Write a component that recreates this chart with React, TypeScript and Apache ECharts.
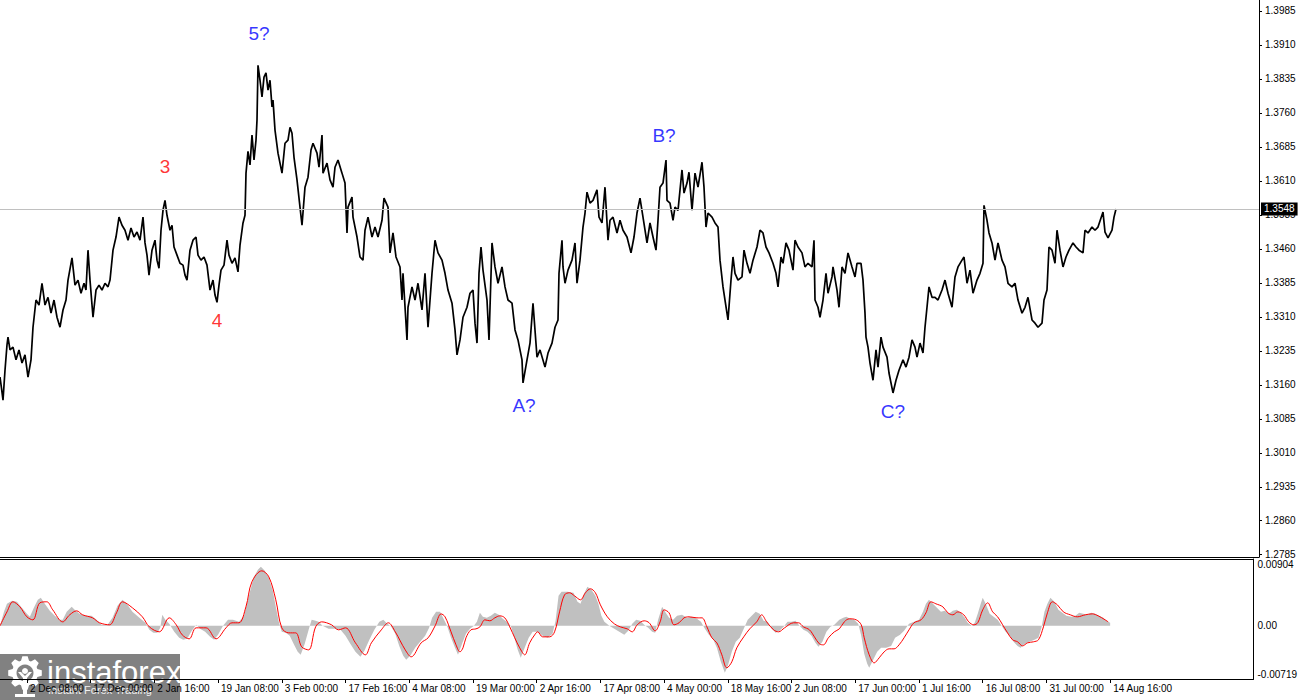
import React, { useEffect, useRef } from 'react';
import * as echarts from 'echarts';

// H4 close line, [bar, price]; one bar is one pixel of the original chart
const closesDecJan: [number, number][] = [
  [0, 1.3177], [2, 1.3144], [3, 1.3126], [5, 1.3192], [7, 1.3248], [8, 1.3265], [10, 1.3237], [13, 1.3243],
  [16, 1.3215], [19, 1.3237], [22, 1.3208], [25, 1.3226], [28, 1.3177], [31, 1.3215], [33, 1.3287], [36, 1.3347],
  [39, 1.3336], [42, 1.3384], [45, 1.3336], [48, 1.3353], [51, 1.3318], [54, 1.3347], [57, 1.3309], [60, 1.3287],
  [63, 1.3325], [66, 1.3347], [68, 1.3391], [72, 1.3440], [75, 1.3380], [78, 1.3391], [81, 1.3362], [84, 1.3384],
  [86, 1.3369], [88, 1.3457], [90, 1.3391], [93, 1.3309], [96, 1.3369], [99, 1.3380], [102, 1.3369], [105, 1.3384],
  [108, 1.3376], [110, 1.3391], [113, 1.3457], [116, 1.3486], [119, 1.3530], [122, 1.3512], [125, 1.3501], [128, 1.3479],
  [131, 1.3506], [134, 1.3486], [137, 1.3497], [140, 1.3479], [143, 1.3530], [145, 1.3473], [147, 1.3446], [149, 1.3402],
  [152, 1.3457], [155, 1.3479], [157, 1.3435], [159, 1.3417], [161, 1.3501], [163, 1.3545], [165, 1.3567], [167, 1.3534],
  [170, 1.3501], [172, 1.3512], [174, 1.3464], [177, 1.3446], [180, 1.3428], [183, 1.3424], [185, 1.3402], [187, 1.3391],
  [190, 1.3457], [193, 1.3479], [196, 1.3486], [198, 1.3446], [201, 1.3435], [204, 1.3442], [207, 1.3424], [210, 1.3369],
  [213, 1.3391], [215, 1.3358], [217, 1.3342], [219, 1.3380], [221, 1.3413], [224, 1.3424], [227, 1.3479], [229, 1.3446],
  [232, 1.3428], [235, 1.3440], [238, 1.3409], [240, 1.3468], [243, 1.3517], [245, 1.3534],
];

const closesFebApr: [number, number][] = [
  [246, 1.3627], [248, 1.3675], [250, 1.3645], [252, 1.3711], [254, 1.3656], [256, 1.3700], [257, 1.3744], [258, 1.3865],
  [260, 1.3832], [262, 1.3795], [264, 1.3839], [266, 1.3848], [268, 1.3810], [270, 1.3832], [272, 1.3773], [273, 1.3788],
  [275, 1.3722], [278, 1.3671], [282, 1.3627], [285, 1.3693], [288, 1.3700], [290, 1.3728], [292, 1.3715], [294, 1.3662],
  [297, 1.3612], [300, 1.3552], [302, 1.3512], [305, 1.3596], [308, 1.3618], [311, 1.3678], [313, 1.3693], [317, 1.3671],
  [319, 1.3640], [322, 1.3711], [323, 1.3627], [327, 1.3649], [330, 1.3612], [333, 1.3596], [335, 1.3640], [338, 1.3656],
  [342, 1.3627], [345, 1.3605], [347, 1.3495], [348, 1.3552], [352, 1.3574], [353, 1.3530], [357, 1.3486], [360, 1.3442],
  [363, 1.3435], [365, 1.3501], [368, 1.3530], [372, 1.3486], [375, 1.3508], [378, 1.3486], [382, 1.3523], [384, 1.3572],
  [388, 1.3552], [390, 1.3451], [393, 1.3495], [396, 1.3442], [400, 1.3420], [402, 1.3347], [403, 1.3406], [407, 1.3259],
  [408, 1.3331], [412, 1.3376], [415, 1.3347], [418, 1.3384], [422, 1.3325], [425, 1.3406], [428, 1.3287], [432, 1.3406],
  [435, 1.3479], [438, 1.3451], [442, 1.3435], [445, 1.3406], [448, 1.3369], [452, 1.3340], [455, 1.3281], [457, 1.3226],
  [460, 1.3259], [463, 1.3309], [467, 1.3331], [470, 1.3362], [473, 1.3369], [475, 1.3296], [477, 1.3252], [479, 1.3406],
  [481, 1.3464], [483, 1.3413], [487, 1.3347], [489, 1.3259], [492, 1.3473], [495, 1.3420], [498, 1.3384], [502, 1.3420],
  [505, 1.3376], [508, 1.3347], [512, 1.3340], [515, 1.3281], [518, 1.3259], [522, 1.3215], [523, 1.3164], [527, 1.3215],
  [530, 1.3252], [533, 1.3340], [537, 1.3221], [540, 1.3237], [545, 1.3199], [548, 1.3230], [552, 1.3252], [555, 1.3287],
];

const closesAprAug: [number, number][] = [
  [558, 1.3303], [559, 1.3406], [562, 1.3479], [563, 1.3420], [565, 1.3384], [568, 1.3413], [572, 1.3435], [575, 1.3473],
  [577, 1.3384], [580, 1.3435], [583, 1.3508], [585, 1.3539], [587, 1.3585], [590, 1.3561], [593, 1.3567], [597, 1.3590],
  [599, 1.3530], [602, 1.3517], [605, 1.3596], [608, 1.3479], [610, 1.3523], [613, 1.3530], [617, 1.3495], [620, 1.3523],
  [623, 1.3501], [627, 1.3486], [631, 1.3451], [634, 1.3486], [637, 1.3539], [640, 1.3572], [643, 1.3530], [647, 1.3473],
  [650, 1.3517], [653, 1.3486], [656, 1.3457], [658, 1.3523], [660, 1.3596], [663, 1.3605], [666, 1.3656], [667, 1.3567],
  [670, 1.3561], [673, 1.3523], [675, 1.3552], [678, 1.3545], [682, 1.3634], [684, 1.3583], [687, 1.3605], [689, 1.3629],
  [692, 1.3545], [695, 1.3627], [698, 1.3596], [702, 1.3651], [704, 1.3596], [706, 1.3508], [708, 1.3539], [712, 1.3530],
  [715, 1.3517], [718, 1.3508], [720, 1.3435], [723, 1.3376], [725, 1.3347], [728, 1.3303], [731, 1.3391], [733, 1.3442],
  [735, 1.3406], [738, 1.3391], [742, 1.3398], [744, 1.3457], [747, 1.3428], [750, 1.3406], [753, 1.3435], [757, 1.3464],
  [760, 1.3501], [763, 1.3495], [766, 1.3464], [769, 1.3451], [773, 1.3428], [776, 1.3406], [778, 1.3376], [781, 1.3442],
  [783, 1.3428], [786, 1.3473], [789, 1.3457], [793, 1.3413], [795, 1.3479], [798, 1.3464], [802, 1.3451], [805, 1.3420],
  [808, 1.3428], [812, 1.3420], [814, 1.3479], [815, 1.3347], [818, 1.3331], [820, 1.3309], [823, 1.3347], [826, 1.3406],
  [828, 1.3362], [832, 1.3398], [833, 1.3420], [837, 1.3369], [839, 1.3331], [842, 1.3420], [845, 1.3406], [848, 1.3451],
  [852, 1.3420], [855, 1.3398], [857, 1.3428], [861, 1.3428], [863, 1.3391], [865, 1.3318], [866, 1.3265], [868, 1.3243],
  [870, 1.3208], [873, 1.3170], [876, 1.3237], [878, 1.3199], [881, 1.3265], [883, 1.3243], [887, 1.3221], [889, 1.3186],
  [893, 1.3142], [896, 1.3170], [899, 1.3192], [903, 1.3215], [906, 1.3199], [909, 1.3221], [912, 1.3259], [915, 1.3243],
  [917, 1.3221], [920, 1.3252], [923, 1.3230], [925, 1.3287], [927, 1.3331], [929, 1.3376], [932, 1.3353], [935, 1.3353],
  [938, 1.3347], [942, 1.3369], [945, 1.3391], [948, 1.3362], [952, 1.3331], [955, 1.3398], [958, 1.3420], [962, 1.3435],
  [964, 1.3442], [967, 1.3384], [970, 1.3413], [973, 1.3362], [977, 1.3391], [980, 1.3406], [983, 1.3428], [984, 1.3556],
  [987, 1.3523], [989, 1.3495], [992, 1.3473], [995, 1.3435], [998, 1.3473], [1002, 1.3435], [1005, 1.3420], [1008, 1.3384],
  [1012, 1.3376], [1015, 1.3384], [1018, 1.3347], [1022, 1.3318], [1025, 1.3331], [1028, 1.3353], [1032, 1.3303], [1035, 1.3296],
  [1038, 1.3287], [1042, 1.3296], [1044, 1.3347], [1047, 1.3369], [1049, 1.3464], [1052, 1.3457], [1055, 1.3428], [1057, 1.3501],
  [1060, 1.3457], [1063, 1.3420], [1066, 1.3442], [1069, 1.3457], [1073, 1.3473], [1076, 1.3464], [1079, 1.3457], [1083, 1.3451],
  [1085, 1.3501], [1088, 1.3495], [1092, 1.3508], [1095, 1.3501], [1098, 1.3508], [1103, 1.3541], [1105, 1.3497], [1108, 1.3484],
  [1112, 1.3501], [1114, 1.3530], [1116, 1.3548],
];

const lastClose = 1.3548;

// MACD main line (histogram) and signal line, [bar, value]
const macdHist: [number, number][] = [
  [0, 0], [4, 0.00189], [7, 0.00298], [12, 0.00338], [17, 0.00325], [22, 0.00244], [27, 0.00162], [30, 0.00122],
  [34, 0.00244], [38, 0.00352], [41, 0.00379], [45, 0.00298], [50, 0.00203], [55, 0.00135], [60, 0.00081], [63, 0.00081],
  [67, 0.00189], [72, 0.00257], [76, 0.00203], [80, 0.00162], [86, 0.00135], [92, 0.00135], [97, 0.00081], [102, 0.00014],
  [108, 0.00014], [113, 0.00108], [118, 0.00271], [123, 0.00352], [128, 0.00284], [133, 0.00189], [140, 0.00108], [146, 0.00041],
  [150, -0.00054], [154, -0.00095], [158, -0.00095], [161, -0.00027], [163, 0.00149], [166, 0.00081], [170, 0.00027], [175, -0.00081],
  [180, -0.00162], [184, -0.00189], [188, -0.00176], [192, -0.00081], [197, 0.00014], [201, -0.00041], [206, -0.00081], [211, -0.00149],
  [215, -0.00189], [219, -0.00122], [224, 0], [229, 0.00081], [234, 0.00081], [240, 0.00054], [245, 0.00135], [250, 0.00406],
  [255, 0.00663], [259, 0.00758], [262, 0.00798], [266, 0.00744], [270, 0.00649], [274, 0.00474], [277, 0.00257], [280, 0.00054],
  [283, -0.00081], [287, -0.00095], [291, -0.00135], [295, -0.00244], [299, -0.00352], [302, -0.00392], [306, -0.00244], [310, -0.00054],
  [313, 0.00081], [317, 0.00068], [320, 0.00054], [324, 0], [330, -0.00041], [336, -0.00041], [342, -0.00054], [347, -0.00135],
  [352, -0.00244], [357, -0.00352], [362, -0.00419], [366, -0.00338], [371, -0.00189], [376, -0.00054], [381, 0.00054], [385, 0.00081],
  [389, 0.00027], [393, -0.00014], [397, -0.00108], [401, -0.00271], [405, -0.00406], [408, -0.0046], [412, -0.00406], [417, -0.00298],
  [422, -0.00216], [427, -0.00135], [431, -0.00027], [434, 0.00108], [438, 0.00189], [442, 0.00189], [446, 0.00081], [449, 0],
  [453, -0.00162], [457, -0.00298], [460, -0.00392], [464, -0.00244], [468, -0.00108], [472, -0.00041], [476, 0], [479, 0.00054],
  [482, 0.00176], [485, 0.00122], [489, 0.00108], [493, 0.00135], [497, 0.00176], [501, 0.00149], [505, 0.00095], [509, 0.00054],
  [513, 0], [516, -0.00135], [520, -0.00325], [523, -0.00433], [527, -0.00298], [531, -0.00162], [535, -0.00081], [540, -0.00081],
  [545, -0.00135], [550, -0.00162], [555, -0.00108], [558, 0.00068], [561, 0.00406], [564, 0.0046], [570, 0.0046], [576, 0.00447],
  [580, 0.00325], [583, 0.00298], [587, 0.00447], [590, 0.00528], [594, 0.00487], [598, 0.00406], [601, 0.00298], [604, 0.00135],
  [607, 0.00054], [612, 0], [617, -0.00041], [622, -0.00081], [627, -0.00122], [631, -0.00068], [635, 0.00027], [639, 0.00081],
  [643, 0.00068], [647, 0.00014], [651, -0.00027], [655, -0.00081], [658, -0.00095], [661, 0.00081], [665, 0.00257], [668, 0.00189],
  [672, 0.00108], [676, 0.00081], [680, 0.00135], [685, 0.00149], [690, 0.00108], [695, 0.00122], [700, 0.00095], [704, 0.00054],
  [708, -0.00041], [712, -0.00122], [716, -0.00176], [720, -0.00298], [724, -0.00487], [728, -0.00636], [731, -0.00541], [735, -0.00352],
  [739, -0.00216], [743, -0.00162], [747, -0.00041], [751, 0.00081], [755, 0.00135], [759, 0.00189], [763, 0.00162], [767, 0.00068],
  [771, 0.00054], [775, -0.00041], [779, -0.00095], [783, -0.00068], [787, -0.00014], [791, 0.00054], [795, 0.00054], [799, 0.00068],
  [803, 0], [807, -0.00054], [811, -0.00081], [815, -0.00135], [819, -0.0023], [822, -0.00284], [826, -0.00216], [830, -0.00081],
  [834, -0.00014], [838, 0.00014], [843, 0.00081], [847, 0.00108], [850, 0.00122], [854, 0.00095], [858, 0.00081], [862, 0.00027],
  [865, -0.00135], [868, -0.00379], [871, -0.00514], [873, -0.00568], [877, -0.0046], [881, -0.00352], [885, -0.00298], [890, -0.00298],
  [895, -0.00271], [899, -0.00162], [904, -0.00122], [908, -0.00068], [913, 0.00027], [918, 0.00054], [923, 0.00081], [927, 0.00189],
  [930, 0.00298], [933, 0.00352], [937, 0.00298], [941, 0.00244], [945, 0.00189], [949, 0.00203], [953, 0.00162], [957, 0.00203],
  [961, 0.00216], [965, 0.00176], [969, 0.00108], [972, 0.00041], [976, 0], [979, 0.00041], [982, 0.00162], [985, 0.00298],
  [987, 0.00379], [990, 0.00298], [994, 0.00162], [998, 0.00122], [1002, 0.00081], [1006, 0], [1010, -0.00081], [1014, -0.00135],
  [1018, -0.00216], [1022, -0.00271], [1025, -0.00298], [1029, -0.00244], [1034, -0.00216], [1039, -0.00189], [1043, -0.00162], [1046, -0.00027],
  [1049, 0.00189], [1052, 0.00298], [1055, 0.00379], [1059, 0.00325], [1063, 0.00216], [1067, 0.00176], [1071, 0.00135], [1076, 0.00122],
  [1080, 0.00135], [1084, 0.00176], [1088, 0.00162], [1092, 0.00149], [1096, 0.00176], [1100, 0.00162], [1104, 0.00135], [1108, 0.00108],
  [1111, 0.00068], [1115, 0.00041],
];

const macdSignal: [number, number][] = [
  [0, 0], [7, 0.00189], [13, 0.00325], [20, 0.00257], [27, 0.00122], [33, 0.00081], [40, 0.00311], [47, 0.00325],
  [53, 0.00216], [63, 0.00054], [70, 0.00149], [77, 0.00203], [83, 0.00149], [93, 0.00108], [100, 0.00041], [110, 0.00014],
  [117, 0.00176], [123, 0.00325], [133, 0.00244], [143, 0.00122], [150, -0.00014], [160, -0.00081], [170, 0.00108], [177, 0.00014],
  [183, -0.00122], [190, -0.00176], [197, -0.00027], [207, -0.00027], [217, -0.00176], [227, -0.00027], [233, 0.00041], [240, 0.00041],
  [247, 0.00257], [253, 0.00595], [263, 0.00744], [270, 0.00663], [277, 0.00352], [283, -0.00027], [290, -0.00095], [297, -0.00095],
  [303, -0.00284], [310, -0.00325], [317, -0.00014], [323, 0.00054], [333, 0.00014], [340, -0.00054], [347, -0.00027], [357, -0.0023],
  [367, -0.00392], [373, -0.0023], [383, -0.00054], [390, 0.00041], [397, -0.00081], [407, -0.00325], [413, -0.00419], [423, -0.0023],
  [430, -0.00162], [437, 0], [443, 0.00162], [447, 0.00122], [453, -0.00081], [458, -0.00257], [462, -0.00352], [465, -0.00298],
  [468, -0.00162], [473, -0.00054], [478, -0.00041], [482, -0.00014], [487, 0.00081], [492, 0.00068], [497, 0.00108], [502, 0.00135],
  [507, 0.00108], [512, -0.00014], [517, -0.00162], [522, -0.00298], [527, -0.00392], [532, -0.0023], [537, -0.00122], [540, -0.00081],
  [545, -0.00149], [552, -0.00149], [557, -0.00081], [562, 0.00189], [567, 0.00419], [572, 0.00447], [577, 0.00406], [583, 0.00352],
  [588, 0.00447], [593, 0.00501], [598, 0.00447], [603, 0.00284], [610, 0.00122], [617, 0.00027], [623, -0.00014], [630, -0.00041],
  [635, -0.00081], [640, 0.00014], [647, 0.00068], [652, 0.00041], [658, -0.00068], [663, 0.00054], [667, 0.00216], [672, 0.00176],
  [677, 0.00014], [682, 0.00041], [687, 0.00108], [692, 0.00122], [700, 0.00108], [705, 0.00108], [710, -0.00014], [715, -0.00162],
  [720, -0.0023], [725, -0.00392], [730, -0.00568], [735, -0.00487], [740, -0.00298], [747, -0.00149], [753, -0.00041], [760, 0.00054],
  [765, 0.00149], [770, 0.00054], [777, -0.00054], [782, -0.00081], [788, -0.00027], [797, 0.00041], [802, 0.00041], [807, -0.00014],
  [813, -0.00054], [818, -0.00149], [823, -0.00244], [827, -0.00257], [832, -0.00162], [838, -0.00081], [843, -0.00041], [848, 0.00054],
  [853, 0.00095], [860, 0.00081], [865, 0.00014], [868, -0.00162], [873, -0.00392], [878, -0.00501], [883, -0.00433], [888, -0.00352],
  [893, -0.00311], [898, -0.00311], [903, -0.00257], [908, -0.00162], [913, -0.00054], [918, 0.00041], [925, 0.00081], [930, 0.00176],
  [935, 0.00325], [940, 0.00298], [947, 0.00257], [952, 0.00176], [957, 0.00149], [962, 0.00189], [968, 0.00149], [973, 0.00054],
  [978, 0.00014], [982, 0.00041], [987, 0.00216], [992, 0.00311], [997, 0.00189], [1002, 0.00122], [1007, 0.00014], [1012, -0.00095],
  [1017, -0.00189], [1022, -0.00216], [1027, -0.00271], [1032, -0.0023], [1038, -0.00216], [1043, -0.00189], [1048, -0.00014], [1052, 0.00176],
  [1057, 0.00325], [1062, 0.00284], [1068, 0.00189], [1075, 0.00149], [1082, 0.00122], [1090, 0.00149], [1097, 0.00162], [1103, 0.00135],
  [1110, 0.00081], [1113, 0.00054],
];

// axis ticks
const priceTicks = [
  1.2785, 1.2860, 1.2935, 1.3010, 1.3085, 1.3160, 1.3235, 1.3310, 1.3385,
  1.3460, 1.3535, 1.3610, 1.3685, 1.3760, 1.3835, 1.3910, 1.3985,
];
const macdTicks = [-0.00719, 0, 0.00904];
const timeTicks = [27, 91, 155, 219, 283, 347, 411, 475, 539, 603, 667, 731, 795, 859, 923, 987, 1051, 1115];
const timeLabels = [
  '2 Dec 08:00', '17 Dec 00:00', '2 Jan 16:00', '19 Jan 08:00', '3 Feb 00:00', '17 Feb 16:00',
  '4 Mar 08:00', '19 Mar 00:00', '2 Apr 16:00', '17 Apr 08:00', '4 May 00:00', '18 May 16:00',
  '2 Jun 08:00', '17 Jun 00:00', '1 Jul 16:00', '16 Jul 08:00', '31 Jul 00:00', '14 Aug 16:00',
];

// wave count marks: text, bar, price, colour
const waveMarks: [string, number, number, string][] = [
  ['3', 165, 1.3642, '#ff0000'],
  ['4', 217, 1.3301, '#ff0000'],
  ['5?', 259, 1.3934, '#0000ff'],
  ['A?', 524, 1.3115, '#0000ff'],
  ['B?', 664, 1.3711, '#0000ff'],
  ['C?', 893, 1.3102, '#0000ff'],
];

const FONT = "'Liberation Sans', Arial, sans-serif";

const App: React.FC = () => {
  const chartRef = useRef<HTMLDivElement>(null);

  useEffect(() => {
    if (!chartRef.current) return;
    document.body.style.margin = '0';
    const myChart = echarts.init(chartRef.current, undefined, { renderer: 'svg' });

    const closes = [...closesDecJan, ...closesFebApr, ...closesAprAug];

    // logo gear outline
    const gear: number[][] = [];
    const gx = 25, gy = 673, rOut = 17, rIn = 13, d = Math.PI / 20;
    for (let k = 0; k < 8; k++) {
      const a = (k * Math.PI) / 4;
      gear.push([gx + rIn * Math.cos(a - 2 * d), gy + rIn * Math.sin(a - 2 * d)]);
      gear.push([gx + rOut * Math.cos(a - d), gy + rOut * Math.sin(a - d)]);
      gear.push([gx + rOut * Math.cos(a + d), gy + rOut * Math.sin(a + d)]);
      gear.push([gx + rIn * Math.cos(a + 2 * d), gy + rIn * Math.sin(a + 2 * d)]);
    }

    const axisText = { color: '#000', fontSize: 10, fontFamily: FONT };
    const blackLine = { show: true, onZero: false, lineStyle: { color: '#000', width: 1 } };

    const option: any = {
      animation: false,
      backgroundColor: '#fff',
      textStyle: { fontFamily: FONT },
      grid: [
        { left: 0, top: 0, width: 1259, height: 557 },
        { left: 0, top: 559, width: 1259, height: 120 },
      ],
      xAxis: [
        {
          type: 'value', gridIndex: 0, min: 0, max: 1259,
          axisLine: blackLine, axisTick: { show: false }, axisLabel: { show: false }, splitLine: { show: false },
        },
        {
          type: 'value', gridIndex: 1, min: 0, max: 1259,
          splitLine: { show: false },
          axisLine: blackLine,
          axisTick: { show: true, customValues: timeTicks, length: 4, lineStyle: { color: '#000' } },
          axisLabel: {
            ...axisText,
            customValues: timeTicks,
            formatter: (v: number) => timeLabels[timeTicks.indexOf(Math.round(v))] ?? '',
            align: 'left',
            margin: 4,
            padding: [0, 0, 0, 3],
          },
        },
        {
          // top edge of the indicator window
          type: 'value', gridIndex: 1, position: 'top', min: 0, max: 1259,
          axisLine: blackLine, axisTick: { show: false }, axisLabel: { show: false }, splitLine: { show: false },
        },
      ],
      yAxis: [
        {
          type: 'value', gridIndex: 0, position: 'right', min: 1.278, max: 1.4009,
          splitLine: { show: false },
          axisLine: blackLine,
          axisTick: { show: true, customValues: priceTicks, length: 3, lineStyle: { color: '#000' } },
          axisLabel: { ...axisText, customValues: priceTicks, formatter: (v: number) => v.toFixed(4), margin: 6 },
        },
        {
          type: 'value', gridIndex: 1, position: 'right', min: -0.00719, max: 0.00904,
          splitLine: { show: false },
          axisLine: blackLine,
          axisTick: { show: false },
          axisLabel: {
            ...axisText,
            customValues: macdTicks,
            formatter: (v: number) => (v === 0 ? '0.00' : v.toFixed(5)),
            margin: 4,
            verticalAlignMaxLabel: 'top',
            verticalAlignMinLabel: 'bottom',
          },
        },
      ],
      series: [
        {
          name: 'close',
          type: 'line',
          xAxisIndex: 0,
          yAxisIndex: 0,
          data: closes,
          showSymbol: false,
          symbol: 'none',
          z: 3,
          lineStyle: { color: '#000', width: 1.7 },
          markLine: {
            silent: true,
            symbol: ['none', 'none'],
            precision: 4,
            lineStyle: { color: '#c0c0c0', width: 1, type: 'solid' },
            label: {
              show: true,
              position: 'end',
              distance: 2,
              formatter: lastClose.toFixed(4),
              backgroundColor: '#000',
              color: '#fff',
              fontSize: 10,
              fontFamily: FONT,
              padding: [2, 3, 1, 3],
            },
            data: [{ yAxis: lastClose }],
          },
        },
        {
          name: 'waves',
          type: 'scatter',
          xAxisIndex: 0,
          yAxisIndex: 0,
          symbolSize: 0,
          silent: true,
          z: 5,
          data: waveMarks.map(([text, bar, price, color]) => ({
            value: [bar, price],
            label: { show: true, position: 'inside', formatter: text, color, fontSize: 19, fontFamily: FONT },
          })),
        },
        {
          name: 'MACD',
          type: 'line',
          xAxisIndex: 1,
          yAxisIndex: 1,
          data: macdHist,
          showSymbol: false,
          symbol: 'none',
          lineStyle: { width: 0, color: '#c0c0c0' },
          areaStyle: { color: '#c0c0c0', opacity: 1 },
          z: 2,
        },
        {
          name: 'Signal',
          type: 'line',
          xAxisIndex: 1,
          yAxisIndex: 1,
          data: macdSignal,
          showSymbol: false,
          symbol: 'none',
          smooth: 0.35,
          lineStyle: { width: 1, color: '#ff0000' },
          z: 3,
        },
      ],
      graphic: [
        {
          type: 'group',
          z: 100,
          children: [
            { type: 'rect', shape: { x: 0, y: 654, width: 180, height: 46 }, style: { fill: 'rgba(118,118,118,0.92)' } },
            { type: 'polygon', shape: { points: gear }, style: { fill: '#fff' } },
            { type: 'circle', shape: { cx: gx, cy: gy, r: 8.5 }, style: { fill: 'rgb(129,129,129)' } },
            { type: 'circle', shape: { cx: gx, cy: gy - 2, r: 3 }, style: { fill: '#fff' } },
            { type: 'polygon', shape: { points: [[gx - 7, gy - 1], [gx - 2, gy + 5], [gx - 2, 697], [gx + 2, 697], [gx + 2, gy + 5], [gx + 7, gy - 1], [gx + 4, gy - 1], [gx, gy + 3], [gx - 4, gy - 1]] }, style: { fill: '#fff' } },
            { type: 'rect', shape: { x: gx - 10, y: 694, width: 20, height: 3 }, style: { fill: '#fff' } },
            {
              type: 'text',
              style: { text: 'instaforex', x: 47, y: 672, fill: '#fff', fontSize: 31, fontFamily: FONT, verticalAlign: 'middle' },
            },
            {
              type: 'text',
              style: { text: 'Instant Forex Trading', x: 48, y: 690, fill: '#f0f0f0', fontSize: 11, fontFamily: FONT, verticalAlign: 'middle' },
            },
          ],
        },
      ],
    };

    myChart.setOption(option);

    return () => {
      myChart.dispose();
    };
  }, []);

  return <div ref={chartRef} style={{ width: '1300px', height: '700px' }} />;
};

export default App;
